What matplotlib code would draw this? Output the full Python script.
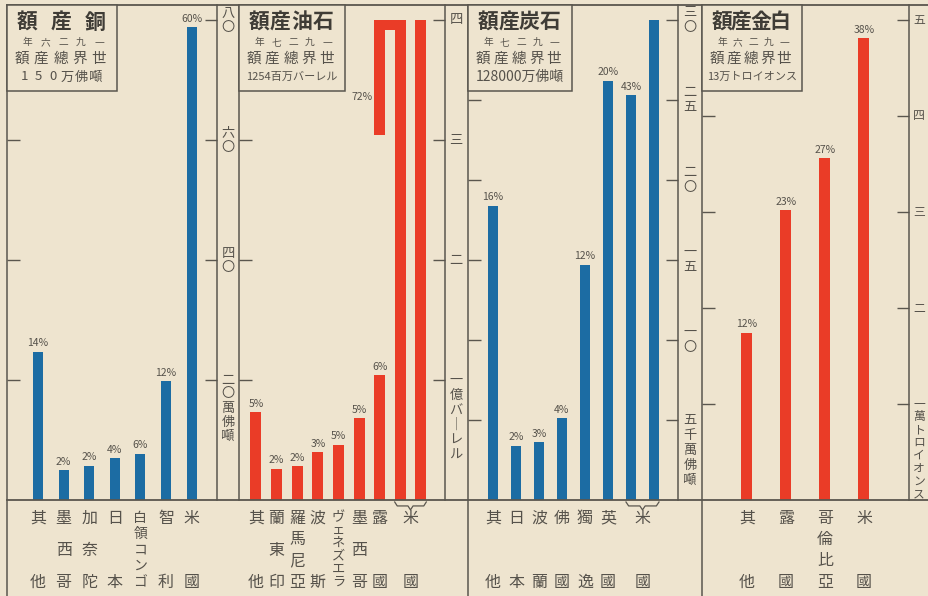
import matplotlib
matplotlib.use('Agg')
import matplotlib.pyplot as plt
from matplotlib.patches import Rectangle
from matplotlib.transforms import offset_copy

plt.rcParams['font.family'] = ['Noto Sans CJK JP', 'DejaVu Sans']

# ---- data: bar heights in each panel's own scale units ----
copper_names = ['其他', '墨西哥', '加奈陀', '日本', '白領コンゴ', '智利', '米國']
copper_vals = [24.7, 5.0, 5.7, 7.0, 7.7, 19.8, 78.8]          # 萬佛噸
copper_pct = ['14%', '2%', '2%', '4%', '6%', '12%', '60%']

oil_names = ['其他', '蘭東印', '羅馬尼亞', '波斯', 'ヴェネズエラ', '墨西哥', '露國', '米國']
oil_vals = [0.73, 0.26, 0.28, 0.40, 0.46, 0.68, 1.04, 8.96]   # 億バーレル
oil_pct = ['5%', '2%', '2%', '3%', '5%', '5%', '6%', '72%']

coal_names = ['其他', '日本', '波蘭', '佛國', '獨逸', '英國', '米國']
coal_vals = [18.4, 3.4, 3.6, 5.1, 14.7, 26.2, 55.3]           # 千萬佛噸
coal_pct = ['16%', '2%', '3%', '4%', '12%', '20%', '43%']

gold_names = ['其他', '露國', '哥倫比亞', '米國']
gold_vals = [1.74, 3.02, 3.56, 4.81]                          # 萬トロイオンス
gold_pct = ['12%', '23%', '27%', '38%']

copper_ticks = [20, 40, 60, 80]
copper_ticklabels = ['二〇萬佛噸', '四〇', '六〇', '八〇']
oil_ticks = [1, 2, 3, 4]
oil_ticklabels = ['一億バーレル', '二', '三', '四']
coal_ticks = [5, 10, 15, 20, 25, 30]
coal_ticklabels = ['五千萬佛噸', '一〇', '一五', '二〇', '二五', '三〇']
gold_ticks = [1, 2, 3, 4, 5]
gold_ticklabels = ['一萬トロイオンス', '二', '三', '四', '五']

titles = ['額産銅', '額産油石', '額産炭石', '額産金白']
years = ['年六二九一', '年七二九一', '年七二九一', '年六二九一']
totals = ['150万佛噸', '1254百万バーレル', '128000万佛噸', '13万トロイオンス']

# ---- style ----
PAPER = '#eee4cf'
INK = '#3f3c36'
INK2 = '#56524b'
LINE = '#5a564e'
BLUE = '#1c6ca3'
RED = '#ea3c27'

W, H = 929, 596
BASE, TOP = 500, 5
PT = 0.72
VERT = {'ー': '｜'}

fig = plt.figure(figsize=(W / 100, H / 100), dpi=100, facecolor=PAPER)


def make_panel(x0, x1, c0, step, ppu, ticks):
    ax = fig.add_axes([x0 / W, 1 - BASE / H, (x1 - x0) / W, (BASE - TOP) / H])
    ax.set_facecolor('none')
    ax.set_xlim((x0 - c0) / step, (x1 - c0) / step)
    ax.set_ylim(0, (BASE - TOP) / ppu)
    ax.set_xticks([])
    ax.set_yticks(ticks)
    ax.tick_params(axis='y', left=True, right=True, direction='in', length=9,
                   width=1, color=LINE, labelleft=False, labelright=False)
    for s in ax.spines.values():
        s.set_visible(False)
    return ax


def scale_labels(ax, x0, x1, xc, ticks, labels, pitch, size):
    fx = (xc - x0) / (x1 - x0)
    tr0 = ax.get_yaxis_transform()
    for i, (t, lab) in enumerate(zip(ticks, labels)):
        chars = [VERT.get(c, c) for c in lab]
        n = len(chars)
        for j, ch in enumerate(chars):
            if i == 0:
                dy = -j * pitch
            else:
                dy = -(j - (n - 1) / 2) * pitch
            tr = offset_copy(tr0, fig=fig, y=dy * PT, units='points')
            ax.text(fx, t, ch, transform=tr, ha='center', va='center',
                    fontsize=size, color=INK2, clip_on=False)


def cat_labels(ax, xs, names, top_px=518, bot_px=582):
    tr0 = ax.get_xaxis_transform()
    for x, name in zip(xs, names):
        n = len(name)
        size = 11.5 if n <= 4 else (10 if n == 5 else 9.5)
        for j, ch in enumerate(name):
            ypix = top_px + j * (bot_px - top_px) / (n - 1)
            ax.text(x, (BASE - ypix) / (BASE - TOP), VERT.get(ch, ch), transform=tr0,
                    ha='center', va='center', fontsize=size, color=INK2, clip_on=False)


def pct_labels(ax, xs, vals, labels):
    for x, v, t in zip(xs, vals, labels):
        ax.annotate(t, (x, v), xytext=(0, 2.5), textcoords='offset points',
                    ha='center', va='bottom', fontsize=7.5, color=INK2,
                    annotation_clip=False)


def brace(ax, a, b):
    tr = ax.get_xaxis_transform()
    m = (a + b) / 2
    k = 0.08 * (b - a)
    ys = [-0.004, -0.012, -0.012, -0.020, -0.012, -0.012, -0.004]
    xs = [a, a + k, m - k, m, m + k, b - k, b]
    ax.plot(xs, ys, transform=tr, color=LINE, lw=0.9, clip_on=False)


# ---- copper ----
ax = make_panel(7, 217, 38, 25.6, 6, copper_ticks)
w = 10 / 25.6
xs = list(range(len(copper_vals)))
ax.bar(xs, copper_vals, width=w, color=BLUE)
pct_labels(ax, xs, copper_vals, copper_pct)
scale_labels(ax, 7, 217, 228, copper_ticks, copper_ticklabels, 14, 9.5)
cat_labels(ax, xs, copper_names)

# ---- oil (US bar folded at the top of the scale) ----
ax = make_panel(239, 445, 256, 20.6, 120, oil_ticks)
w = 11 / 20.6
cap = 4.0
xs = list(range(7))
ax.bar(xs, oil_vals[:7], width=w, color=RED)
pct_labels(ax, xs, oil_vals[:7], oil_pct[:7])
rem = oil_vals[7] - 2 * cap
ax.bar([7, 8], [cap, cap], width=w, color=RED)
ax.bar(6, rem, bottom=cap - rem, width=w, color=RED)
ax.bar(6.5, 0.085, bottom=cap - 0.085, width=1 + w, color=RED)
ax.annotate(oil_pct[7], (6 - w / 2, cap - rem * 0.67), xytext=(-1, 0),
            textcoords='offset points', ha='right', va='center', fontsize=7.5, color=INK2)
brace(ax, 7 - w / 2, 8 + w / 2)
scale_labels(ax, 239, 445, 456, oil_ticks, oil_ticklabels, 15, 9.5)
cat_labels(ax, list(range(7)) + [7.5], oil_names)

# ---- coal (US bar split in two columns) ----
ax = make_panel(468, 678, 493, 23, 16, coal_ticks)
w = 10 / 23
cap = 30
xs = list(range(6))
ax.bar(xs, coal_vals[:6], width=w, color=BLUE)
pct_labels(ax, xs, coal_vals[:6], coal_pct[:6])
rem = coal_vals[6] - cap
ax.bar([6, 7], [rem, cap], width=w, color=BLUE)
pct_labels(ax, [6], [rem], coal_pct[6:])
brace(ax, 6 - w / 2, 7 + w / 2)
scale_labels(ax, 468, 678, 690, coal_ticks, coal_ticklabels, 15, 9.5)
cat_labels(ax, list(range(6)) + [6.5], coal_names)

# ---- gold ----
ax = make_panel(702, 909, 747, 39, 96, gold_ticks)
w = 11 / 39
xs = list(range(len(gold_vals)))
ax.bar(xs, gold_vals, width=w, color=RED)
pct_labels(ax, xs, gold_vals, gold_pct)
scale_labels(ax, 702, 909, 919, gold_ticks, gold_ticklabels, 12.8, 8.5)
cat_labels(ax, xs, gold_names)

# ---- frame, title boxes ----
ov = fig.add_axes([0, 0, 1, 1], zorder=5)
ov.set_xlim(0, W)
ov.set_ylim(H, 0)
ov.axis('off')
ov.patch.set_alpha(0)

ov.plot([7, W], [TOP, TOP], color=LINE, lw=1.3)
ov.plot([7, W], [BASE, BASE], color=LINE, lw=1.3)
for x in [217, 239, 445, 678, 909]:
    ov.plot([x, x], [TOP, BASE], color=LINE, lw=1.1)
for x in [7, 468, 702]:
    ov.plot([x, x], [TOP, H], color=LINE, lw=1.1)


def spread(chars, left, right, y, color=INK2, **kw):
    n = len(chars)
    for j, ch in enumerate(chars):
        x = left + j * (right - left) / (n - 1)
        ov.text(x, y, ch, ha='center', va='center', color=color, zorder=7, **kw)


boxes = [(7, 117), (239, 345), (468, 572), (702, 802)]
for k, (bx0, bx1) in enumerate(boxes):
    ov.add_patch(Rectangle((bx0, TOP), bx1 - bx0, 91 - TOP, facecolor=PAPER,
                           edgecolor=LINE, lw=1.1, zorder=6))
    spread(titles[k], bx0 + 20, bx1 - 22, 22, color=INK, fontsize=15, fontweight='bold')
    spread(years[k], bx0 + 20, bx1 - 18, 42, fontsize=7)
    spread('額産總界世', bx0 + 15, bx1 - 18, 59, fontsize=10.5)
    if k == 0:
        spread(totals[k], bx0 + 17, bx1 - 21, 77, fontsize=9.5)
    else:
        size = {1: 8, 2: 10, 3: 8}[k]
        ov.text((bx0 + bx1) / 2, 77, totals[k], ha='center', va='center',
                fontsize=size, color=INK2, zorder=7)

fig.savefig('out.png', dpi=100, facecolor=PAPER)
